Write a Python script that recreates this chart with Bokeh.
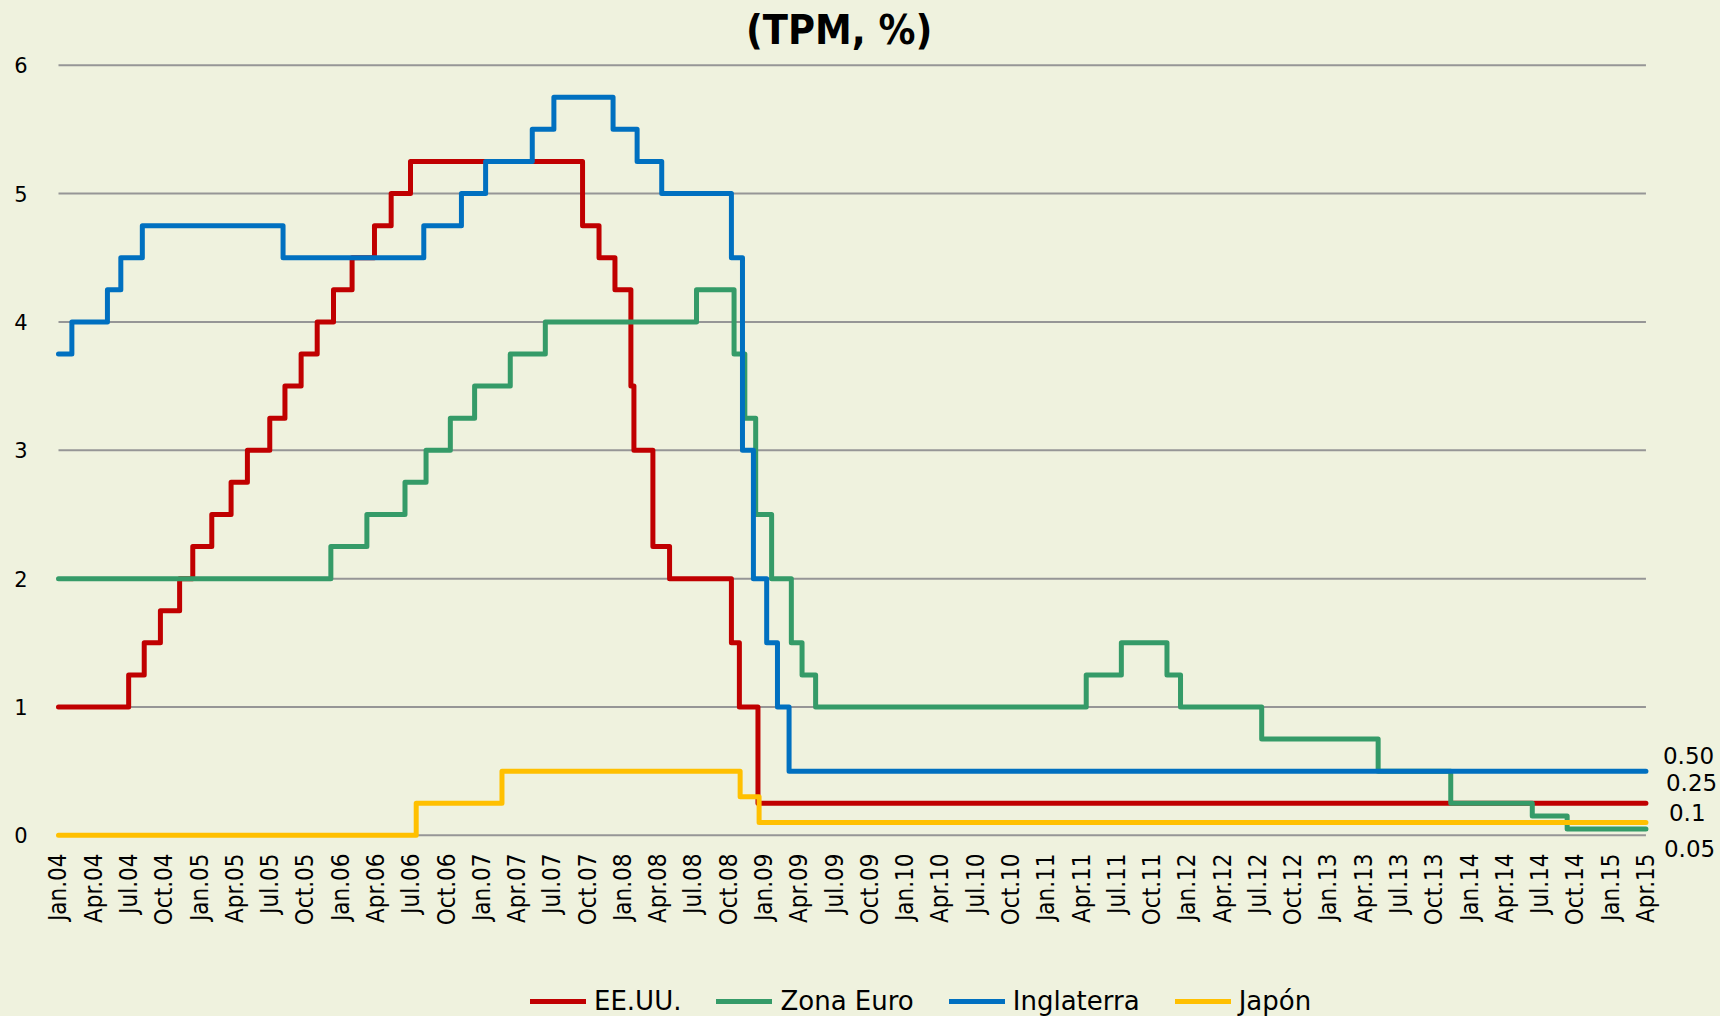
import calendar
import math
from bokeh.plotting import figure
from bokeh.layouts import column
from bokeh.models import Range1d, FixedTicker, Legend, LegendItem, ColumnDataSource
from bokeh.core.properties import value
from bokeh.embed import file_html
from bokeh.resources import INLINE

# ---------------- data (policy-rate change dates and new levels) ----------------
us_dates = ["2004-01-01", "2004-06-30", "2004-08-10", "2004-09-21", "2004-11-10", "2004-12-14",
            "2005-02-02", "2005-03-22", "2005-05-03", "2005-06-30", "2005-08-09", "2005-09-20",
            "2005-11-01", "2005-12-13", "2006-01-31", "2006-03-28", "2006-05-10", "2006-06-29",
            "2007-09-18", "2007-10-31", "2007-12-11", "2008-01-22", "2008-01-30", "2008-03-18",
            "2008-04-30", "2008-10-08", "2008-10-29", "2008-12-16"]
us_rates = [1.00, 1.25, 1.50, 1.75, 2.00, 2.25,
            2.50, 2.75, 3.00, 3.25, 3.50, 3.75,
            4.00, 4.25, 4.50, 4.75, 5.00, 5.25,
            4.75, 4.50, 4.25, 3.50, 3.00, 2.25,
            2.00, 1.50, 1.00, 0.25]

eu_dates = ["2004-01-01", "2005-12-06", "2006-03-08", "2006-06-15", "2006-08-09", "2006-10-11",
            "2006-12-13", "2007-03-14", "2007-06-13", "2008-07-09", "2008-10-15", "2008-11-12",
            "2008-12-10", "2009-01-21", "2009-03-11", "2009-04-08", "2009-05-13", "2011-04-13",
            "2011-07-13", "2011-11-09", "2011-12-14", "2012-07-11", "2013-05-08", "2013-11-13",
            "2014-06-11", "2014-09-10"]
eu_rates = [2.00, 2.25, 2.50, 2.75, 3.00, 3.25,
            3.50, 3.75, 4.00, 4.25, 3.75, 3.25,
            2.50, 2.00, 1.50, 1.25, 1.00, 1.25,
            1.50, 1.25, 1.00, 0.75, 0.50, 0.25,
            0.15, 0.05]

uk_dates = ["2004-01-01", "2004-02-05", "2004-05-06", "2004-06-10", "2004-08-05", "2005-08-04",
            "2006-08-03", "2006-11-09", "2007-01-11", "2007-05-10", "2007-07-05", "2007-12-06",
            "2008-02-07", "2008-04-10", "2008-10-08", "2008-11-06", "2008-12-04", "2009-01-08",
            "2009-02-05", "2009-03-05"]
uk_rates = [3.75, 4.00, 4.25, 4.50, 4.75, 4.50,
            4.75, 5.00, 5.25, 5.50, 5.75, 5.50,
            5.25, 5.00, 4.50, 3.00, 2.00, 1.50,
            1.00, 0.50]

jp_dates = ["2004-01-01", "2006-07-14", "2007-02-21", "2008-10-31", "2008-12-19"]
jp_rates = [0.00, 0.25, 0.50, 0.30, 0.10]

start_date = "2004-01-01"
end_date = "2015-04-01"

series_names = ["EE.UU.", "Zona Euro", "Inglaterra", "Japón"]
end_labels = ["0.50", "0.25", "0.1", "0.05"]
end_label_values = [0.50, 0.25, 0.10, 0.05]

y_ticks = [0, 1, 2, 3, 4, 5, 6]
tick_months = ["Jan", "Apr", "Jul", "Oct"]
tick_labels = [f"{m}.{yy:02d}" for yy in range(4, 16) for m in tick_months][:46]
tick_positions = list(range(0, 136, 3))

title_text = "(TPM, %)"

# ---------------- styles ----------------
BG = "#EFF2DE"
GRID = "#969696"
colors = ["#C00000", "#359B68", "#0070C0", "#FFC000"]
COND = "DejaVu Sans Condensed, DejaVu Sans"
FONT = "DejaVu Sans"


def month_pos(d):
    y, m, dd = map(int, d.split("-"))
    return (y - 2004) * 12 + (m - 1) + (dd - 1) / calendar.monthrange(y, m)[1]


def step_xy(dates, rates):
    xs = [month_pos(d) for d in dates] + [month_pos(end_date)]
    ys = list(rates) + [rates[-1]]
    return xs, ys


x_first, x_last = month_pos(start_date), month_pos(end_date)
all_series = [(us_dates, us_rates), (eu_dates, eu_rates), (uk_dates, uk_rates), (jp_dates, jp_rates)]

p = figure(width=1720, height=975, output_backend="svg", toolbar_location=None,
           x_range=Range1d(-0.34, 141.34), y_range=Range1d(-0.196, 6.504),
           min_border_left=54, min_border_right=0, min_border_top=0, min_border_bottom=115,
           background_fill_color=BG, border_fill_color=BG, outline_line_color=None)

p.xgrid.visible = False
p.ygrid.visible = False

# horizontal gridlines restricted to the category span
p.segment(x0=[x_first] * len(y_ticks), x1=[x_last] * len(y_ticks), y0=y_ticks, y1=y_ticks,
          line_color=GRID, line_width=2)

p.yaxis.ticker = FixedTicker(ticks=y_ticks)
p.yaxis.axis_line_color = None
p.yaxis.major_tick_line_color = None
p.yaxis.minor_tick_line_color = None
p.yaxis.major_tick_out = 0
p.yaxis.major_label_standoff = 27
p.yaxis.major_label_text_font = FONT
p.yaxis.major_label_text_font_size = "21px"
p.yaxis.major_label_text_color = "#000000"

p.xaxis.ticker = FixedTicker(ticks=tick_positions)
p.xaxis.major_label_overrides = {t: l for t, l in zip(tick_positions, tick_labels)}
p.xaxis.major_label_orientation = math.pi / 2
p.xaxis.axis_line_color = None
p.xaxis.major_tick_line_color = None
p.xaxis.minor_tick_line_color = None
p.xaxis.major_tick_out = 0
p.xaxis.major_label_standoff = -7
p.xaxis.major_label_text_font = COND
p.xaxis.major_label_text_font_size = "24px"
p.xaxis.major_label_text_color = "#000000"

for (dates, rates), col in zip(all_series, colors):
    xs, ys = step_xy(dates, rates)
    p.step(xs, ys, mode="after", line_color=col, line_width=5,
           line_join="round", line_cap="round")

# end-of-series value labels
end_src = ColumnDataSource(dict(x=[x_last] * 4, y=end_label_values, text=end_labels,
                                xo=[17, 20, 23, 18], yo=[-15.6, -20.7, -10, 19.6]))
p.text(x="x", y="y", text="text", x_offset="xo", y_offset="yo", source=end_src,
       text_align="left", text_baseline="middle",
       text_font=value(FONT), text_font_size="23px", text_color="#000000")

# title
p.text(x=[(x_first + x_last) / 2], y=[y_ticks[-1]], text=[title_text], x_offset=-13, y_offset=-35,
       text_align="center", text_baseline="middle",
       text_font=value(COND), text_font_style="bold", text_font_size="41px", text_color="#000000")

# ---------------- legend strip (same series, drawn out of view; only the legend shows) ----------------
lg = figure(width=1720, height=41, output_backend="svg", toolbar_location=None,
            x_range=Range1d(200, 201), y_range=Range1d(0, 6),
            x_axis_location=None, y_axis_location=None,
            min_border_left=0, min_border_right=0, min_border_top=0, min_border_bottom=0,
            background_fill_color=BG, border_fill_color=BG, outline_line_color=None)
lg.grid.visible = False
items = []
for name, (dates, rates), col in zip(series_names, all_series, colors):
    xs, ys = step_xy(dates, rates)
    r = lg.line(xs, ys, line_color=col, line_width=5, line_cap="round")
    items.append(LegendItem(label=name, renderers=[r]))
legend = Legend(items=items, orientation="horizontal", location=(476, 0),
                glyph_width=56, glyph_height=24, label_standoff=8, spacing=35,
                padding=0, margin=0, border_line_color=None, background_fill_alpha=0,
                label_text_font=FONT, label_text_font_size="26px", label_text_color="#000000",
                label_height=24)
lg.add_layout(legend, "center")

layout = column(p, lg, spacing=0, styles={"background-color": BG})
open("out.html", "w").write(file_html(layout, INLINE))
